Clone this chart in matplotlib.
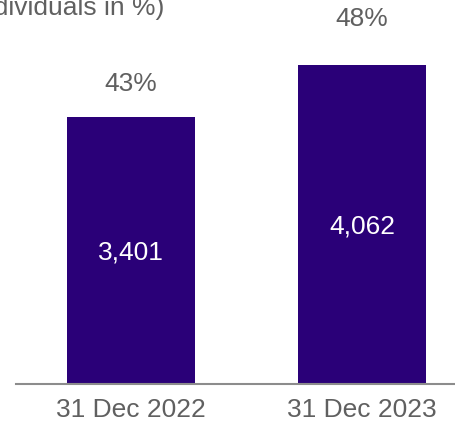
import matplotlib
matplotlib.use("Agg")
import matplotlib.pyplot as plt

# data
dates = ["31 Dec 2022", "31 Dec 2023"]
counts = [3401, 4062]
shares = [43, 48]
count_labels = ["3,401", "4,062"]
share_labels = ["43%", "48%"]

BAR = "#2a0078"
GREY = "#606060"

plt.rcParams["font.family"] = ["Liberation Sans", "DejaVu Sans"]

W, H = 456, 424
fig = plt.figure(figsize=(W / 100, H / 100), dpi=100)
# axes: left at 16px, right at figure edge, baseline at 384px from top
ax = fig.add_axes([16 / W, 40 / H, 440 / W, 384 / H])

x = [0, 1]
ax.bar(x, counts, width=0.554, color=BAR)
ax.set_xlim(-0.498, 1.407)
ax.set_ylim(0, 4891)

for xi, v, lab in zip(x, counts, count_labels):
    ax.text(xi, v / 2 - 25, lab, ha="center", va="center", color="white", fontsize=19)

# shares on a second scale, drawn as labels only
ax2 = ax.twinx()
ax2.set_ylim(19.85, 49.38)
ax2.axis("off")
for xi, s, lab in zip(x, shares, share_labels):
    ax2.text(xi, s - 0.1, lab, ha="center", va="center", color=GREY, fontsize=19)

ax.set_xticks(x)
ax.set_xticklabels(dates, fontsize=19, color=GREY)
ax.tick_params(axis="x", length=0, pad=10)
ax.set_yticks([])
for side in ["top", "right", "left"]:
    ax.spines[side].set_visible(False)
ax.spines["bottom"].set_color("#8c8c8c")
ax.spines["bottom"].set_linewidth(1.5)

# heading, cut off at the left edge like the source
fig.text(164 / W, 1 + 4 / H, "(number of individuals in %)", ha="right", va="top",
         fontsize=19, color=GREY)

fig.savefig("out.png", dpi=100)
